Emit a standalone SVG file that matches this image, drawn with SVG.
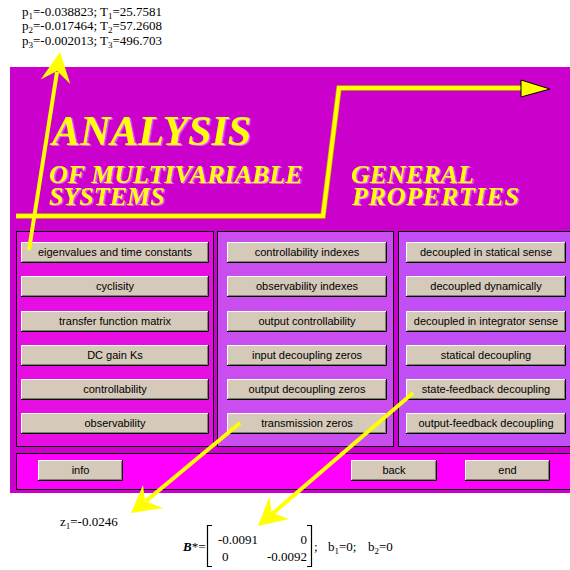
<svg xmlns="http://www.w3.org/2000/svg" width="570" height="570" viewBox="0 0 570 570">
<style>
.bg{fill:#CC00CC}
.pl{fill:#E70EE3;stroke:#000;stroke-width:1}
.pm{fill:#CA4EEF;stroke:#000;stroke-width:1}
.pr{fill:#C24FF6;stroke:#000;stroke-width:1}
.pb{fill:#FF00FF;stroke:#000;stroke-width:1}
.bf{fill:#D5C9B9}
.hl{fill:none;stroke:#FFFFFF;stroke-width:1}
.sh{fill:none;stroke:#000;stroke-width:1}
.sh2{fill:none;stroke:#808070;stroke-width:1}
.bt{font-family:"Liberation Sans",Arial,sans-serif;font-size:11px;fill:#000;text-anchor:middle}
.tt{font-family:"Liberation Serif","Times New Roman",serif;font-weight:bold;font-style:italic;fill:#FFFF00;filter:url(#tshadow)}
.mt{font-family:"Liberation Serif","Times New Roman",serif;font-size:13px;fill:#000}
.yl{fill:none;stroke:#FFFF00;stroke-width:4;stroke-linejoin:miter}
.ye{fill:none;stroke:#C8A800;stroke-width:5.5;stroke-linejoin:miter}
.ah{fill:#FFFF00;stroke:none}
</style>
<defs>
<filter id="tshadow" x="-5%" y="-20%" width="115%" height="150%">
<feDropShadow dx="1.5" dy="1" stdDeviation="0" flood-color="#F060F0" flood-opacity="1"/>
</filter>
</defs>

<rect class="bg" x="10" y="67" width="560" height="426"/>

<g id="title">
<text class="tt" x="52" y="145" font-size="42">ANALYSIS</text>
<text class="tt" x="49" y="183" font-size="26">OF MULTIVARIABLE<tspan x="49" dy="22">SYSTEMS</tspan></text>
<text class="tt" x="351" y="183" font-size="26">GENERAL<tspan x="352" dy="22" textLength="167">PROPERTIES</tspan></text>
</g>

<g id="panel-left"><rect class="pl" x="16.5" y="231.5" width="197" height="215"/></g>
<g id="panel-middle"><rect class="pm" x="217.5" y="231.5" width="176" height="215"/></g>
<g id="panel-right"><rect class="pr" x="398.5" y="231.5" width="180" height="215"/></g>
<g id="panel-bottom"><rect class="pb" x="16.5" y="453.5" width="560" height="36"/></g>

<!-- left buttons -->
<g id="btn-eigen"><rect class="bf" x="21" y="242" width="188" height="21"/><path class="hl" d="M21.5,262 V242.5 H208"/><path class="sh" d="M21,262.5 H208.5 V242"/><path class="sh2" d="M22,261.5 H207.5 V243"/><text class="bt" x="115" y="256">eigenvalues and time constants</text></g>
<g id="btn-cyclisity"><rect class="bf" x="21" y="276" width="188" height="21"/><path class="hl" d="M21.5,296 V276.5 H208"/><path class="sh" d="M21,296.5 H208.5 V276"/><path class="sh2" d="M22,295.5 H207.5 V277"/><text class="bt" x="115" y="290">cyclisity</text></g>
<g id="btn-tfm"><rect class="bf" x="21" y="311" width="188" height="21"/><path class="hl" d="M21.5,331 V311.5 H208"/><path class="sh" d="M21,331.5 H208.5 V311"/><path class="sh2" d="M22,330.5 H207.5 V312"/><text class="bt" x="115" y="325">transfer function matrix</text></g>
<g id="btn-dcgain"><rect class="bf" x="21" y="345" width="188" height="21"/><path class="hl" d="M21.5,365 V345.5 H208"/><path class="sh" d="M21,365.5 H208.5 V345"/><path class="sh2" d="M22,364.5 H207.5 V346"/><text class="bt" x="115" y="359">DC gain Ks</text></g>
<g id="btn-ctrl"><rect class="bf" x="21" y="379" width="188" height="21"/><path class="hl" d="M21.5,399 V379.5 H208"/><path class="sh" d="M21,399.5 H208.5 V379"/><path class="sh2" d="M22,398.5 H207.5 V380"/><text class="bt" x="115" y="393">controllability</text></g>
<g id="btn-obs"><rect class="bf" x="21" y="413" width="188" height="21"/><path class="hl" d="M21.5,433 V413.5 H208"/><path class="sh" d="M21,433.5 H208.5 V413"/><path class="sh2" d="M22,432.5 H207.5 V414"/><text class="bt" x="115" y="427">observability</text></g>

<!-- middle buttons -->
<g id="btn-ctrlidx"><rect class="bf" x="227" y="242" width="160" height="21"/><path class="hl" d="M227.5,262 V242.5 H386"/><path class="sh" d="M227,262.5 H386.5 V242"/><path class="sh2" d="M228,261.5 H385.5 V243"/><text class="bt" x="307" y="256">controllability indexes</text></g>
<g id="btn-obsidx"><rect class="bf" x="227" y="276" width="160" height="21"/><path class="hl" d="M227.5,296 V276.5 H386"/><path class="sh" d="M227,296.5 H386.5 V276"/><path class="sh2" d="M228,295.5 H385.5 V277"/><text class="bt" x="307" y="290">observability indexes</text></g>
<g id="btn-outctrl"><rect class="bf" x="227" y="311" width="160" height="21"/><path class="hl" d="M227.5,331 V311.5 H386"/><path class="sh" d="M227,331.5 H386.5 V311"/><path class="sh2" d="M228,330.5 H385.5 V312"/><text class="bt" x="307" y="325">output controllability</text></g>
<g id="btn-indz"><rect class="bf" x="227" y="345" width="160" height="21"/><path class="hl" d="M227.5,365 V345.5 H386"/><path class="sh" d="M227,365.5 H386.5 V345"/><path class="sh2" d="M228,364.5 H385.5 V346"/><text class="bt" x="307" y="359">input decoupling zeros</text></g>
<g id="btn-outdz"><rect class="bf" x="227" y="379" width="160" height="21"/><path class="hl" d="M227.5,399 V379.5 H386"/><path class="sh" d="M227,399.5 H386.5 V379"/><path class="sh2" d="M228,398.5 H385.5 V380"/><text class="bt" x="307" y="393">output decoupling zeros</text></g>
<g id="btn-trz"><rect class="bf" x="227" y="413" width="160" height="21"/><path class="hl" d="M227.5,433 V413.5 H386"/><path class="sh" d="M227,433.5 H386.5 V413"/><path class="sh2" d="M228,432.5 H385.5 V414"/><text class="bt" x="307" y="427">transmission zeros</text></g>

<!-- right buttons -->
<g id="btn-decstat"><rect class="bf" x="406" y="242" width="160" height="21"/><path class="hl" d="M406.5,262 V242.5 H565"/><path class="sh" d="M406,262.5 H565.5 V242"/><path class="sh2" d="M407,261.5 H564.5 V243"/><text class="bt" x="486" y="256">decoupled in statical sense</text></g>
<g id="btn-decdyn"><rect class="bf" x="406" y="276" width="160" height="21"/><path class="hl" d="M406.5,296 V276.5 H565"/><path class="sh" d="M406,296.5 H565.5 V276"/><path class="sh2" d="M407,295.5 H564.5 V277"/><text class="bt" x="486" y="290">decoupled dynamically</text></g>
<g id="btn-decint"><rect class="bf" x="406" y="311" width="160" height="21"/><path class="hl" d="M406.5,331 V311.5 H565"/><path class="sh" d="M406,331.5 H565.5 V311"/><path class="sh2" d="M407,330.5 H564.5 V312"/><text class="bt" x="486" y="325">decoupled in integrator sense</text></g>
<g id="btn-statdec"><rect class="bf" x="406" y="345" width="160" height="21"/><path class="hl" d="M406.5,365 V345.5 H565"/><path class="sh" d="M406,365.5 H565.5 V345"/><path class="sh2" d="M407,364.5 H564.5 V346"/><text class="bt" x="486" y="359">statical decoupling</text></g>
<g id="btn-sfdec"><rect class="bf" x="406" y="379" width="160" height="21"/><path class="hl" d="M406.5,399 V379.5 H565"/><path class="sh" d="M406,399.5 H565.5 V379"/><path class="sh2" d="M407,398.5 H564.5 V380"/><text class="bt" x="486" y="393">state-feedback decoupling</text></g>
<g id="btn-ofdec"><rect class="bf" x="406" y="413" width="160" height="21"/><path class="hl" d="M406.5,433 V413.5 H565"/><path class="sh" d="M406,433.5 H565.5 V413"/><path class="sh2" d="M407,432.5 H564.5 V414"/><text class="bt" x="486" y="427">output-feedback decoupling</text></g>

<!-- bottom buttons -->
<g id="btn-info"><rect class="bf" x="38" y="460" width="85" height="21"/><path class="hl" d="M38.5,480 V460.5 H122"/><path class="sh" d="M38,480.5 H122.5 V460"/><path class="sh2" d="M39,479.5 H121.5 V461"/><text class="bt" x="80.5" y="474">info</text></g>
<g id="btn-back"><rect class="bf" x="351" y="460" width="86" height="21"/><path class="hl" d="M351.5,480 V460.5 H436"/><path class="sh" d="M351,480.5 H436.5 V460"/><path class="sh2" d="M352,479.5 H435.5 V461"/><text class="bt" x="394" y="474">back</text></g>
<g id="btn-end"><rect class="bf" x="465" y="460" width="85" height="21"/><path class="hl" d="M465.5,480 V460.5 H549"/><path class="sh" d="M465,480.5 H549.5 V460"/><path class="sh2" d="M466,479.5 H548.5 V461"/><text class="bt" x="507.5" y="474">end</text></g>

<!-- results text -->
<g id="poles">
<text class="mt" x="22" y="16">p<tspan font-size="9" dy="3">1</tspan><tspan dy="-3">=-0.038823; T</tspan><tspan font-size="9" dy="3">1</tspan><tspan dy="-3">=25.7581</tspan></text>
<text class="mt" x="22" y="30">p<tspan font-size="9" dy="3">2</tspan><tspan dy="-3">=-0.017464; T</tspan><tspan font-size="9" dy="3">2</tspan><tspan dy="-3">=57.2608</tspan></text>
<text class="mt" x="22" y="45">p<tspan font-size="9" dy="3">3</tspan><tspan dy="-3">=-0.002013; T</tspan><tspan font-size="9" dy="3">3</tspan><tspan dy="-3">=496.703</tspan></text>
</g>
<g id="zeros">
<text class="mt" x="60" y="526">z<tspan font-size="9" dy="3">1</tspan><tspan dy="-3">=-0.0246</tspan></text>
</g>
<g id="bmatrix">
<text class="mt" x="183" y="551"><tspan font-weight="bold" font-style="italic">B</tspan>*=</text>
<path d="M212,525.5 H207.5 V566.5 H212" fill="none" stroke="#000" stroke-width="1.2"/>
<path d="M307,525.5 H311.5 V566.5 H307" fill="none" stroke="#000" stroke-width="1.2"/>
<text class="mt" x="218" y="544" font-size="12">-0.0091</text>
<text class="mt" x="307" y="544" font-size="12" text-anchor="end">0</text>
<text class="mt" x="222" y="561" font-size="12">0</text>
<text class="mt" x="307" y="561" font-size="12" text-anchor="end">-0.0092</text>
<text class="mt" x="314" y="551">;</text>
<text class="mt" x="328" y="551">b<tspan font-size="9" dy="3">1</tspan><tspan dy="-3">=0;</tspan></text>
<text class="mt" x="368" y="551">b<tspan font-size="9" dy="3">2</tspan><tspan dy="-3">=0</tspan></text>
</g>

<!-- connectors -->
<g id="connectors">
<path class="ye" d="M16,216 H323 L339,88 H522"/>
<path class="yl" d="M16,216 H323 L339,88 H522"/>
<polygon points="521,80 550,89 521,97" fill="#FFFF00" stroke="#000" stroke-width="1"/>
<line class="yl" x1="29" y1="250" x2="57" y2="72"/>
<polygon class="ah" points="60,52 70.3,84 57,71 40.7,79.4"/>
<line class="yl" x1="240" y1="423" x2="146" y2="501"/>
<polygon class="ah" points="131,513 163,508 145,501 143,485"/>
<line class="yl" x1="413" y1="393" x2="272" y2="514"/>
<polygon class="ah" points="258,526 289,519 271.5,512.5 269.5,496.4"/>
</g>
</svg>
